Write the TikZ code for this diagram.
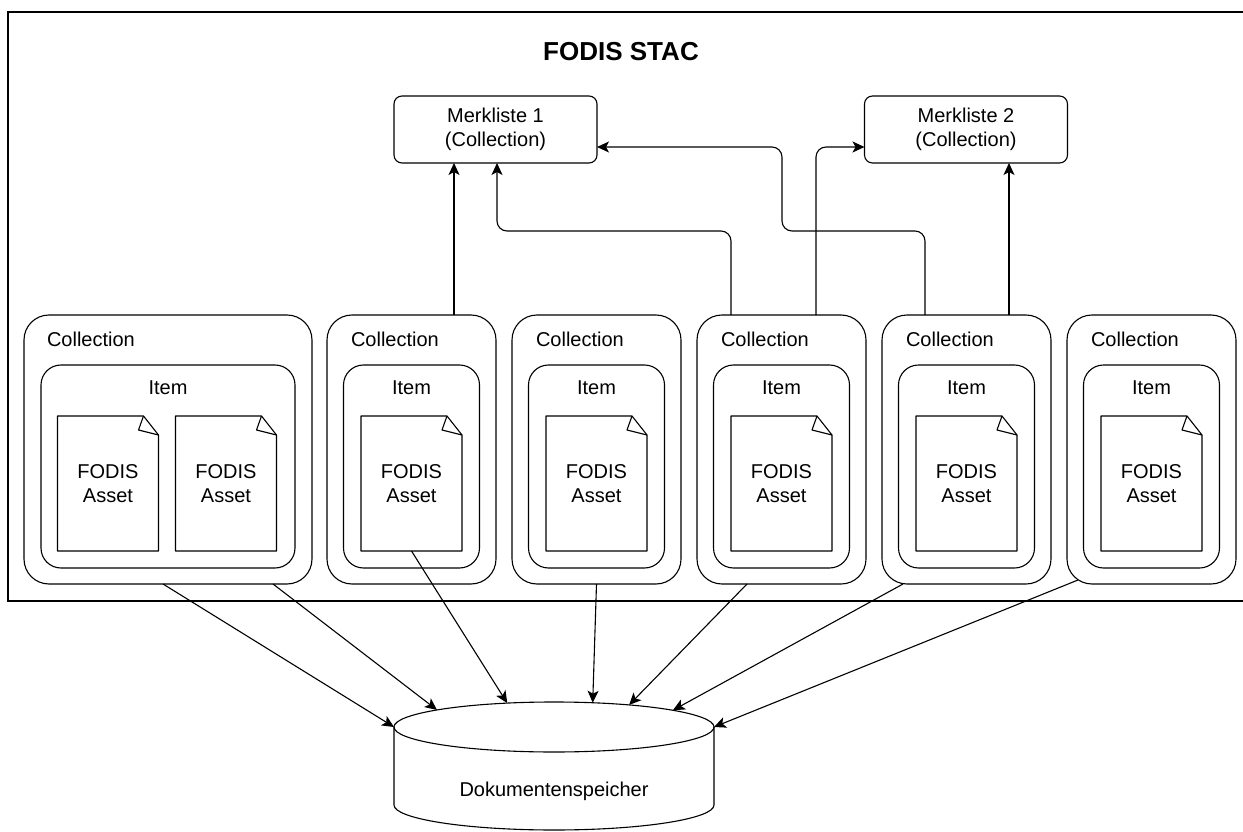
\documentclass[tikz,border=0pt]{standalone}
\usepackage{fontspec}
\setmainfont{Liberation Sans}
\usetikzlibrary{arrows.meta,calc}

% page outline with a folded top-right corner, drawn around a named node
\newcommand\assetpage[1]{%
  \draw[pg] (#1.north west) -- ([xshift=-15pt]#1.north east)
    -- ([yshift=-19pt]#1.north east) -- (#1.south east) -- (#1.south west) -- cycle;
  \draw[pg] ([xshift=-15pt]#1.north east) -- ([xshift=-20pt,yshift=-14pt]#1.north east)
    -- ([yshift=-19pt]#1.north east);
}

\begin{document}
\begin{tikzpicture}[x=1pt,y=-1pt,
  every node/.style={font=\fontsize{20}{24}\selectfont, inner sep=0pt, outer sep=0pt},
  coll/.style={draw, line width=1.1pt, rounded corners=25pt, minimum width=169pt, minimum height=269pt},
  itm/.style={draw, line width=1.1pt, rounded corners=20pt, minimum width=136pt, minimum height=203pt},
  doc/.style={minimum width=101pt, minimum height=135pt, align=center},
  mk/.style={draw, line width=1.1pt, rounded corners=8pt, minimum width=203pt, minimum height=67pt, align=center},
  conn/.style={line width=1.1pt, rounded corners=10pt, -{Stealth[length=12pt,width=11pt,inset=3pt]}},
  pg/.style={line width=1.1pt, line join=round},
  lbl/.style={anchor=west},
]
\useasboundingbox (0,0) rectangle (1243,832);

% outer frame of the catalogue
\draw[line width=2pt] (1250,12) -- (8,12) -- (8,601) -- (1250,601);
\node[font=\fontsize{26}{30}\selectfont\bfseries] (title) at (621,52) {FODIS STAC};

% bookmark lists
\node[mk] (m1) at (495.5,129.5) {Merkliste 1\\(Collection)};
\node[mk] (m2) at (966,129.5) {Merkliste 2\\(Collection)};

% first collection: one item holding two assets
\node[coll, minimum width=288pt] (c1) at (168,449.5) {};
\node[lbl] (c1lab) at ([shift={(23,24)}]c1.north west) {Collection};
\node[itm, minimum width=254pt] (i1) at (168,466.5) {};
\node (i1lab) at ([shift={(0,23)}]i1.north) {Item};
\node[doc] (a1) at (108,483.5) {FODIS\\Asset};
\node[doc] (a1b) at (226,483.5) {FODIS\\Asset};
\assetpage{a1}
\assetpage{a1b}

% further collections, one item and one asset each
\foreach \k/\cx in {2/411.5,3/596.5,4/781.5,5/966.5,6/1151.5}{
  \node[coll] (c\k) at (\cx,449.5) {};
  \node[lbl] (c\k lab) at ([shift={(24,24)}]c\k.north west) {Collection};
  \node[itm] (i\k) at (\cx,466.5) {};
  \node (i\k lab) at ([shift={(0,23)}]i\k.north) {Item};
  \node[doc] (a\k) at (\cx,483.5) {FODIS\\Asset};
  \assetpage{a\k}
}

% document store
\coordinate (dbtop) at (554,727);
\draw[line width=1.1pt, fill=white] (394,727) -- (394,805)
  arc[start angle=180, end angle=360, x radius=160pt, y radius=25pt] -- (714,727);
\draw[line width=1.1pt] (dbtop) ellipse [x radius=160pt, y radius=25pt];
\node (db) at (554,791) {Dokumentenspeicher};
\foreach \n/\a in {1/180,2/137,3/107,4/76,5/62,6/42,7/0}{
  \coordinate (t\n) at ($(dbtop)+(\a:160pt and 25pt)$);
}

% links from collections to the bookmark lists
\draw[conn] ([xshift=42.5pt]c2.north) -- ([xshift=42.5pt]c2.north |- m1.south);
\draw[conn] ([xshift=-50.5pt]c4.north) |- (600,231) -| ([xshift=1.5pt]m1.south);
\draw[conn] ([xshift=-41.5pt]c5.north) |- (782,231) |- ([yshift=-17.5pt]m1.east);
\draw[conn] ([xshift=34.5pt]c4.north) |- ([yshift=-17.5pt]m2.west);
\draw[conn] ([xshift=42.5pt]c5.north) -- ([xshift=42.5pt]c5.north |- m2.south);

% links into the document store
\draw[conn] ([xshift=-5pt]c1.south) -- (t1);
\draw[conn] ([xshift=105pt]c1.south) -- (t2);
\draw[conn] (a2.south) -- (t3);
\draw[conn] (c3.south) -- (t4);
\draw[conn] ([xshift=-34.5pt]c4.south) -- (t5);
\draw[conn] ([xshift=-63.5pt]c5.south) -- (t6);
\draw[conn] ([xshift=11pt,yshift=4pt]c6.south west) -- (t7);
\end{tikzpicture}
\end{document}
